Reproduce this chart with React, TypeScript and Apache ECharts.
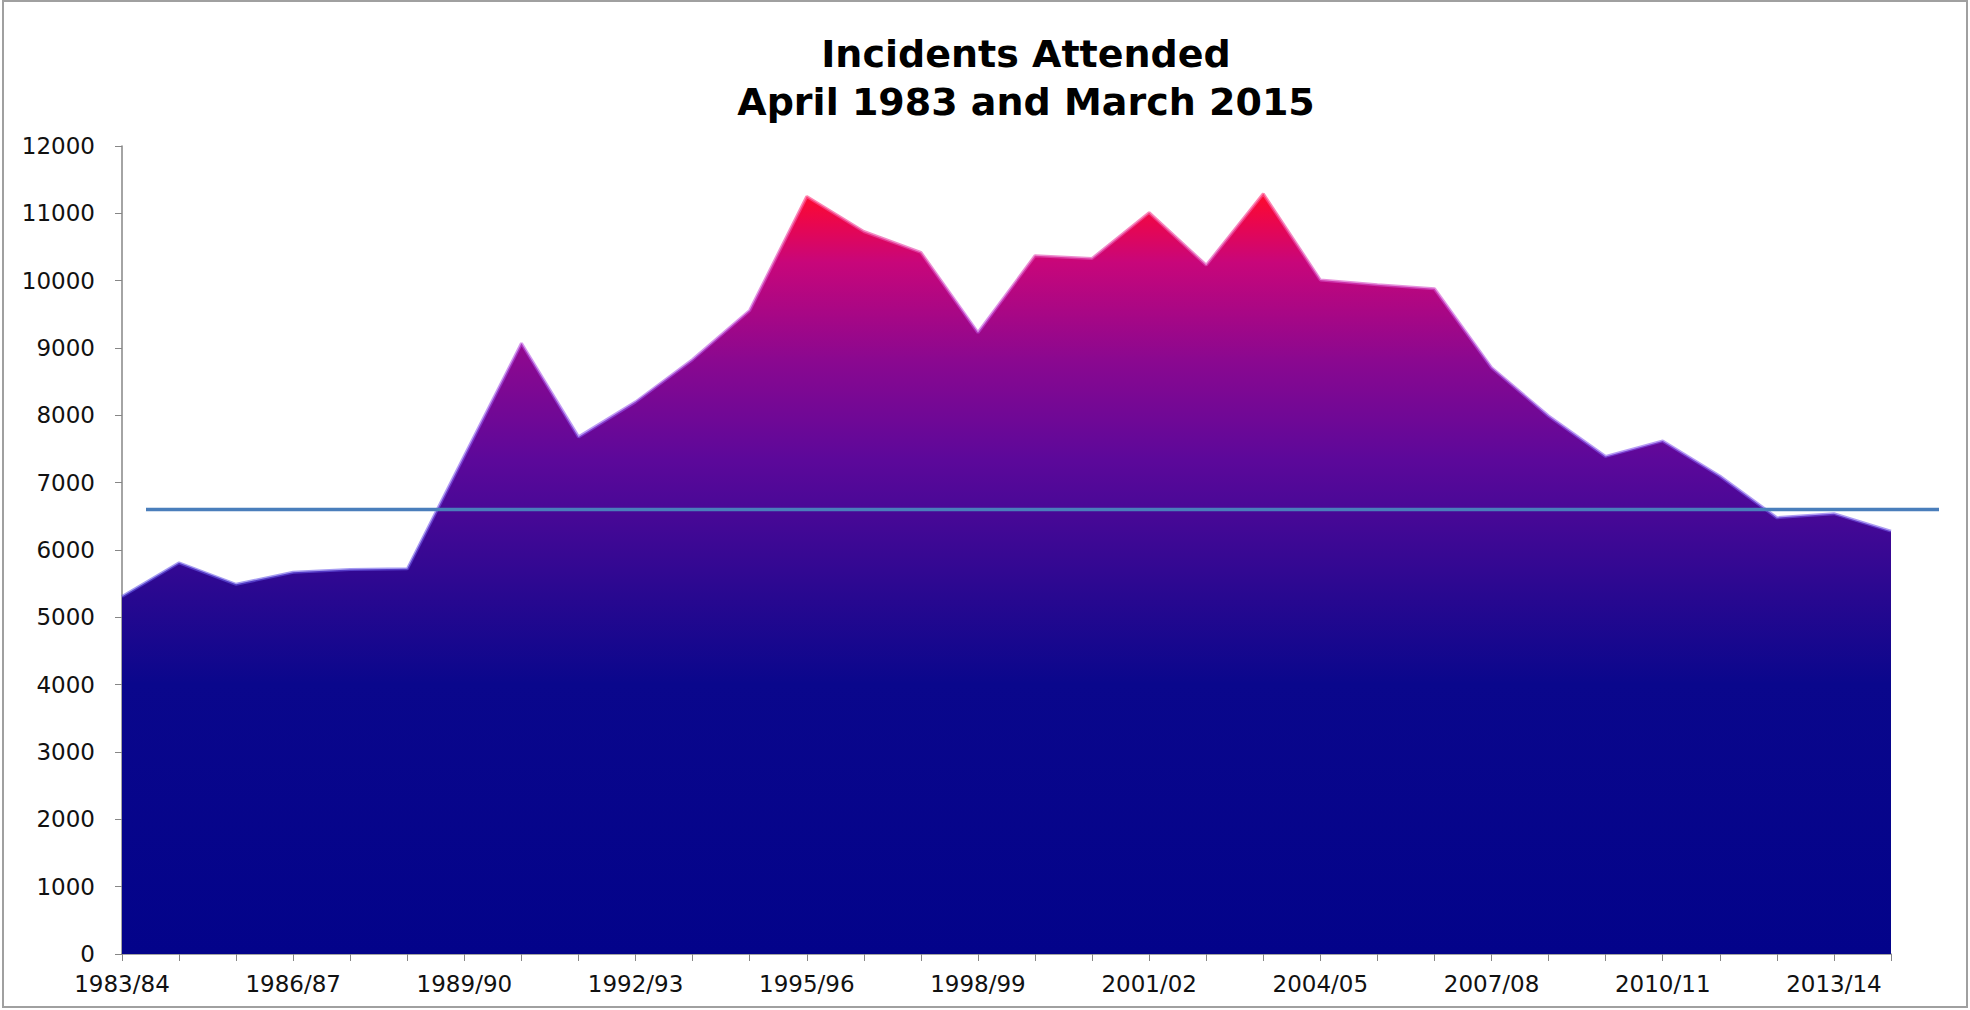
import React, { useEffect, useRef } from "react";
import * as echarts from "echarts";

const categories = [
  "1983/84", "1984/85", "1985/86", "1986/87", "1987/88", "1988/89", "1989/90", "1990/91",
  "1991/92", "1992/93", "1993/94", "1994/95", "1995/96", "1996/97", "1997/98", "1998/99",
  "1999/00", "2000/01", "2001/02", "2002/03", "2003/04", "2004/05", "2005/06", "2006/07",
  "2007/08", "2008/09", "2009/10", "2010/11", "2011/12", "2012/13", "2013/14", "2014/15",
];

const incidents = [
  5310, 5810, 5490, 5670, 5710, 5720, 7400, 9070,
  7680, 8200, 8830, 9560, 11250, 10730, 10420, 9230,
  10370, 10330, 11010, 10230, 11290, 10010, 9940, 9880,
  8710, 7990, 7390, 7620, 7100, 6480, 6540, 6280,
];

const referenceLevel = 6600;

const yTicks = { min: 0, max: 12000, interval: 1000 };

const titleLines = ["Incidents Attended", "April 1983 and March 2015"];

export default function App() {
  const ref = useRef<HTMLDivElement>(null);

  useEffect(() => {
    if (!ref.current) return;
    const chart = echarts.init(ref.current, null, { renderer: "svg" });
    const labelFont = "DejaVu Sans";
    chart.setOption({
      animation: false,
      backgroundColor: "#ffffff",
      title: {
        text: titleLines.join("\n"),
        left: 1021,
        top: 25,
        textAlign: "center",
        textStyle: {
          fontFamily: "DejaVu Sans",
          fontWeight: "bold",
          fontSize: 38,
          lineHeight: 48,
          color: "#000000",
        },
      },
      grid: { left: 122, right: 79, top: 146, bottom: 56 },
      xAxis: {
        type: "category",
        data: categories,
        boundaryGap: false,
        axisLine: { lineStyle: { color: "#868686", width: 1.5 } },
        axisTick: { show: true, interval: 0, length: 7, lineStyle: { color: "#868686" } },
        axisLabel: {
          interval: 2,
          margin: 18,
          fontFamily: labelFont,
          fontSize: 23,
          color: "#111111",
        },
        splitLine: { show: false },
      },
      yAxis: {
        type: "value",
        min: yTicks.min,
        max: yTicks.max,
        interval: yTicks.interval,
        axisLine: { show: true, lineStyle: { color: "#868686", width: 1.5 } },
        axisTick: { show: true, length: 7, lineStyle: { color: "#868686" } },
        axisLabel: {
          margin: 27,
          fontFamily: labelFont,
          fontSize: 23,
          color: "#111111",
          formatter: (v: number) => String(v),
        },
        splitLine: { show: false },
      },
      series: [
        {
          type: "line",
          data: incidents,
          symbol: "none",
          lineStyle: {
            width: 3,
            color: new echarts.graphic.LinearGradient(0, 0, 0, 1, [
              { offset: 0, color: "rgba(255,80,140,0.7)" },
              { offset: 0.3, color: "rgba(200,80,220,0.6)" },
              { offset: 0.6, color: "rgba(140,90,240,0.6)" },
              { offset: 1, color: "rgba(100,90,230,0.6)" },
            ]),
          },
          areaStyle: {
            opacity: 1,
            color: new echarts.graphic.LinearGradient(0, 0, 0, 1, [
              { offset: 0, color: "#ff0a2c" },
              { offset: 0.04, color: "#e80650" },
              { offset: 0.09, color: "#c8067a" },
              { offset: 0.22, color: "#8a0890" },
              { offset: 0.35, color: "#5c089a" },
              { offset: 0.53, color: "#280890" },
              { offset: 0.645, color: "#0a078c" },
              { offset: 1, color: "#03038a" },
            ]),
          },
          z: 2,
        },
      ],
    });

    const yPix = chart.convertToPixel({ yAxisIndex: 0 }, referenceLevel) as number;
    chart.setOption({
      graphic: [
        {
          type: "rect",
          shape: { x: 3, y: 1, width: 1964, height: 1006 },
          style: { fill: "none", stroke: "#a0a0a0", lineWidth: 2 },
          silent: true,
          z: 0,
        },
        {
          type: "line",
          shape: { x1: 146, y1: yPix, x2: 1939, y2: yPix },
          style: { stroke: "#4a7ebb", lineWidth: 3.5 },
          silent: true,
          z: 100,
        },
      ],
    });

    return () => chart.dispose();
  }, []);

  return (
    <div
      ref={ref}
      style={{ position: "fixed", left: 0, top: 0, width: 1970, height: 1010 }}
    />
  );
}
